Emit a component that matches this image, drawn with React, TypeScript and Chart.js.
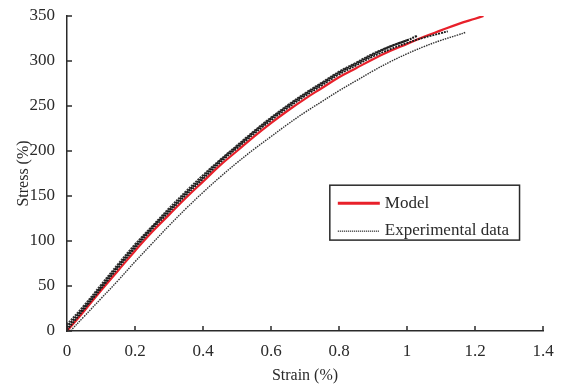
import React, { useEffect, useRef } from "react";
import { Chart, registerables } from "chart.js";

Chart.register(...registerables);

// Model curve
const modelStrain = [0, 0.05, 0.1, 0.15, 0.2, 0.25, 0.3, 0.35, 0.4, 0.45, 0.5, 0.55, 0.6, 0.65, 0.7, 0.75, 0.8, 0.85, 0.9, 0.95, 1.0, 1.05, 1.1, 1.15, 1.2, 1.225];
const modelStress = [0, 22, 45, 67, 89, 110, 129, 148, 166, 184, 200, 216, 231, 245, 258, 270, 282, 292, 302, 311, 319, 327, 334, 341, 347, 350];

// Experimental data, specimen A (upper bundle)
const expAStrain = [0, 0.05, 0.1, 0.15, 0.2, 0.25, 0.3, 0.35, 0.4, 0.45, 0.5, 0.55, 0.6, 0.65, 0.7, 0.75, 0.8, 0.85, 0.9, 0.95, 1.0, 1.03];
const expAStress = [4, 26, 49, 72, 94, 115, 134, 153, 171, 189, 205, 221, 236, 250, 263, 275, 287, 297, 307, 316, 323, 328];

// Experimental data, specimen B (upper bundle)
const expBStrain = [0, 0.05, 0.1, 0.15, 0.2, 0.25, 0.3, 0.35, 0.4, 0.45, 0.5, 0.55, 0.6, 0.65, 0.7, 0.75, 0.8, 0.85, 0.9, 0.95, 1.0, 1.05, 1.1, 1.12];
const expBStress = [1, 24, 47, 70, 92, 113, 132, 151, 169, 187, 203, 219, 234, 248, 261, 273, 285, 295, 305, 313, 320, 326, 331, 333];

// Experimental data, specimen D (upper bundle)
const expDStrain = [0, 0.05, 0.1, 0.15, 0.2, 0.25, 0.3, 0.35, 0.4, 0.45, 0.5, 0.55, 0.6, 0.65, 0.7, 0.75, 0.8, 0.85, 0.9, 0.95, 1.0];
const expDStress = [7, 28, 51, 74, 96, 116, 136, 155, 173, 190, 206, 222, 237, 251, 264, 276, 288, 298, 308, 316, 323];

// Experimental data, specimen C (lower curve)
const expCStrain = [0.01, 0.05, 0.1, 0.15, 0.2, 0.25, 0.3, 0.35, 0.4, 0.45, 0.5, 0.55, 0.6, 0.65, 0.7, 0.75, 0.8, 0.85, 0.9, 0.95, 1.0, 1.05, 1.1, 1.15, 1.174];
const expCStress = [0, 16, 36, 56, 77, 97, 117, 136, 154, 171, 187, 202, 216, 230, 243, 255, 267, 278, 289, 299, 308, 316, 323, 329, 332];

const xTicks = [0, 0.2, 0.4, 0.6, 0.8, 1, 1.2, 1.4];
const yTicks = [0, 50, 100, 150, 200, 250, 300, 350];

const legendLabels = ["Model", "Experimental data"];

const FONT = "'Liberation Serif', 'Times New Roman', serif";
const TEXT = "#2a2a2a";

const toPts = (xs: number[], ys: number[]) => xs.map((x, i) => ({ x, y: ys[i] }));

const innerTicks = {
  id: "innerTicks",
  afterDatasetsDraw(chart: any) {
    const { ctx, scales } = chart;
    const xs = scales.x;
    const ys = scales.y;
    ctx.save();
    ctx.strokeStyle = TEXT;
    ctx.lineWidth = 1.5;
    const bottom = ys.getPixelForValue(0);
    const left = xs.getPixelForValue(0);
    xTicks.forEach((t) => {
      const px = xs.getPixelForValue(t);
      ctx.beginPath();
      ctx.moveTo(px, bottom);
      ctx.lineTo(px, bottom - 5);
      ctx.stroke();
    });
    yTicks.forEach((t) => {
      const py = ys.getPixelForValue(t);
      ctx.beginPath();
      ctx.moveTo(left, py);
      ctx.lineTo(left + 5, py);
      ctx.stroke();
    });
    ctx.restore();
  },
};

const boxLegend = {
  id: "boxLegend",
  afterDraw(chart: any) {
    const { ctx, scales } = chart;
    const xs = scales.x;
    const ys = scales.y;
    const x0 = xs.getPixelForValue(0.773);
    const x1 = xs.getPixelForValue(1.331);
    const y0 = ys.getPixelForValue(162);
    const y1 = ys.getPixelForValue(101);
    ctx.save();
    ctx.fillStyle = "#fff";
    ctx.fillRect(x0, y0, x1 - x0, y1 - y0);
    ctx.strokeStyle = TEXT;
    ctx.lineWidth = 1.5;
    ctx.strokeRect(x0, y0, x1 - x0, y1 - y0);
    const lx0 = x0 + 8;
    const lx1 = x0 + 50;
    const r1 = y0 + 18;
    ctx.strokeStyle = "#e8202a";
    ctx.lineWidth = 3;
    ctx.beginPath();
    ctx.moveTo(lx0, r1);
    ctx.lineTo(lx1, r1);
    ctx.stroke();
    const r2 = y0 + 46;
    ctx.strokeStyle = "#333";
    ctx.lineWidth = 1.5;
    ctx.setLineDash([1, 1]);
    ctx.beginPath();
    ctx.moveTo(lx0, r2);
    ctx.lineTo(lx1, r2);
    ctx.stroke();
    ctx.setLineDash([]);
    ctx.fillStyle = TEXT;
    ctx.font = `17px ${FONT}`;
    ctx.textBaseline = "middle";
    ctx.textAlign = "left";
    ctx.fillText(legendLabels[0], lx1 + 5, r1);
    ctx.fillText(legendLabels[1], lx1 + 5, r2 - 1);
    ctx.restore();
  },
};

export default function App() {
  const ref = useRef<HTMLCanvasElement | null>(null);
  useEffect(() => {
    if (!ref.current) return;
    const expStyle = {
      borderColor: "#1a1a1a",
      borderWidth: 2.2,
      borderDash: [2, 1],
      pointRadius: 0,
      fill: false,
      tension: 0.4,
    };
    const chart = new Chart(ref.current, {
      type: "line",
      data: {
        datasets: [
          { label: "Experimental A", data: toPts(expAStrain, expAStress), ...expStyle },
          { label: "Experimental D", data: toPts(expDStrain, expDStress), ...expStyle, borderColor: "#333" },
          { label: "Experimental B", data: toPts(expBStrain, expBStress), ...expStyle, borderWidth: 1.8 },
          {
            label: "Experimental C",
            data: toPts(expCStrain, expCStress),
            ...expStyle,
            borderDash: [1.5, 1],
            borderColor: "#333",
            borderWidth: 1.4,
          },
          {
            label: "Model",
            data: toPts(modelStrain, modelStress),
            borderColor: "#e8202a",
            borderWidth: 2.2,
            pointRadius: 0,
            fill: false,
            tension: 0.4,
          },
        ],
      },
      options: {
        animation: false,
        responsive: false,
        maintainAspectRatio: false,
        layout: { padding: { top: 16, right: 21, left: 0, bottom: 0 } },
        plugins: { legend: { display: false }, tooltip: { enabled: false } },
        scales: {
          x: {
            type: "linear",
            min: 0,
            max: 1.4,
            afterBuildTicks: (s: any) => {
              s.ticks = xTicks.map((v) => ({ value: v }));
            },
            afterFit: (s: any) => {
              s.height = 54;
            },
            grid: { display: false },
            border: { display: true, color: TEXT, width: 1.5 },
            ticks: {
              color: TEXT,
              font: { family: FONT, size: 17 },
              padding: 2,
              maxRotation: 0,
              callback: (v: any) => String(Number(Number(v).toFixed(1))),
            },
            title: {
              display: true,
              text: "Strain (%)",
              color: TEXT,
              font: { family: FONT, size: 16 },
              padding: { top: 0, bottom: 0 },
            },
          },
          y: {
            type: "linear",
            min: 0,
            max: 350,
            afterBuildTicks: (s: any) => {
              s.ticks = yTicks.map((v) => ({ value: v }));
            },
            afterFit: (s: any) => {
              s.width = 67;
            },
            grid: { display: false },
            border: { display: true, color: TEXT, width: 1.5 },
            ticks: {
              color: TEXT,
              font: { family: FONT, size: 17 },
              padding: 4,
            },
            title: {
              display: true,
              text: "Stress (%)",
              color: TEXT,
              font: { family: FONT, size: 16 },
              padding: { top: 14, bottom: 0 },
            },
          },
        },
      },
      plugins: [innerTicks, boxLegend],
    });
    return () => chart.destroy();
  }, []);
  return (
    <div style={{ position: "absolute", left: 0, top: 0, width: 564, height: 385, background: "#fff" }}>
      <canvas ref={ref} width={564} height={385} style={{ display: "block" }} />
    </div>
  );
}
